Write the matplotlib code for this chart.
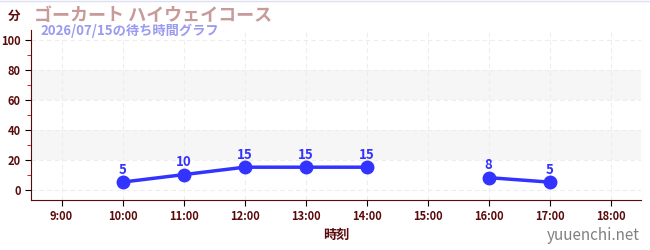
import numpy as np
import matplotlib.pyplot as plt

plt.rcParams['font.family'] = ['Noto Sans CJK JP', 'DejaVu Sans']

# wait times (minutes) per hour, None = no data
hours = [9, 10, 11, 12, 13, 14, 15, 16, 17, 18]
waits = [None, 5, 10, 15, 15, 15, None, 8, 5, None]
hour_labels = [f"{h}:00" for h in hours]

title = "ゴーカート ハイウェイコース"
subtitle = "2026/07/15の待ち時間グラフ"

dark = '#5a0a0a'
blue = '#3333ff'

fig = plt.figure(figsize=(6.5, 2.5), dpi=100)
ax = fig.add_axes([0.0477, 0.2, 0.9385, 0.68])

y = np.array([np.nan if v is None else v for v in waits], dtype=float)
ax.plot(hours, y, color=blue, lw=2.5, marker='o', ms=9, zorder=3)
for h, v in zip(hours, waits):
    if v is not None:
        ax.annotate(str(v), (h, v), xytext=(0, 4), textcoords='offset points',
                    ha='center', va='bottom', color=blue, fontsize=9.5,
                    fontweight='bold')

# bands
for lo, hi in [(20, 40), (60, 80)]:
    ax.axhspan(lo, hi, color='#f6f6f6', zorder=0, lw=0)

ax.set_xlim(8.5, 18.5)
ax.set_ylim(-7, 107)
ax.set_xticks(hours)
ax.set_xticklabels(hour_labels)
ax.set_yticks(range(0, 101, 20))
ax.set_yticks(range(10, 100, 20), minor=True)
ax.grid(True, which='major', color='#ededed', ls=(0, (4, 3)), lw=0.8)
ax.set_axisbelow(True)

for s in ['top', 'right']:
    ax.spines[s].set_visible(False)
for s in ['left', 'bottom']:
    ax.spines[s].set_color(dark)
ax.tick_params(axis='both', which='major', colors='black', labelcolor=dark,
               labelsize=8, length=4)
ax.tick_params(axis='y', which='minor', colors='#cc0000', length=3)
for lbl in ax.get_xticklabels() + ax.get_yticklabels():
    lbl.set_fontweight('bold')

ax.set_xlabel("時刻", color=dark, fontsize=9.5, fontweight='bold', labelpad=3)

fig.text(0.012, 0.935, "分", color=dark, fontsize=9, fontweight='bold', va='center')
fig.text(0.052, 0.94, title, color='#c89a9a', fontsize=13, fontweight='bold', va='center')
fig.text(0.063, 0.875, subtitle, color='#9a9af0', fontsize=9.5, fontweight='bold', va='center')
fig.text(0.985, 0.06, "yuuenchi.net", color='#808080', fontsize=11, ha='right', va='center')
fig.add_artist(plt.Line2D([0, 1], [0.998, 0.998], color='#dde0f0', lw=1))

fig.savefig('out.png', dpi=100, facecolor='white')
